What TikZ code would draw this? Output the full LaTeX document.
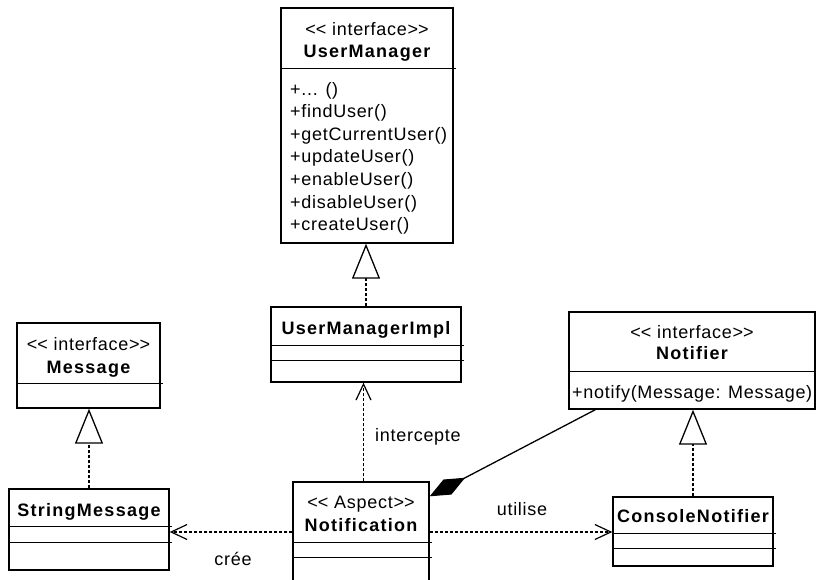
\documentclass[tikz,border=0pt]{standalone}
\usepackage{fontspec}
\setmainfont{Liberation Sans}[LetterSpace=4]
\newfontfamily\titlefont{Liberation Sans}[LetterSpace=7]
\usetikzlibrary{arrows.meta,calc}
% stereotype label, with the two angle brackets kept apart
\newcommand{\stereo}[1]{<\kern0pt<~#1>\kern0pt>}
\begin{document}
\begin{tikzpicture}[x=1pt,y=-1pt,
  cls/.style={draw, line width=1.4pt, rectangle, inner sep=0pt},
  sepline/.style={line width=1.4pt},
  lbl/.style={inner sep=0pt, anchor=base, font=\fontsize{18}{21}\selectfont},
  ttl/.style={lbl, font=\fontsize{18}{21}\selectfont\titlefont\bfseries},
  op/.style={lbl, anchor=base west},
  dep/.style={line width=1.1pt, dash pattern=on 3pt off 2pt,
    -{Straight Barb[length=16pt,width=15pt,line width=1.2pt]}},
  real/.style={line width=1.1pt, dash pattern=on 3pt off 2pt,
    -{Triangle[open,length=35pt,width=28pt,line width=1.3pt,fill=white]}},
  comp/.style={line width=1.3pt, -{Diamond[length=40pt,width=17pt]}},
]
\useasboundingbox (0,0) rectangle (816,580);
\clip (0,0) rectangle (816,580);

% class boxes
\node[cls, minimum width=172pt, minimum height=235pt] (um) at (367,125.5) {};
\node[cls, minimum width=190pt, minimum height=75pt] (umi) at (366,344.5) {};
\node[cls, minimum width=143pt, minimum height=85pt] (msg) at (88.5,365.5) {};
\node[cls, minimum width=160pt, minimum height=81pt] (smsg) at (89,529.5) {};
\node[cls, minimum width=136pt, minimum height=128pt] (notif) at (361,546) {};
\node[cls, minimum width=246pt, minimum height=97pt] (notifier) at (692,360.5) {};
\node[cls, minimum width=160pt, minimum height=69pt] (cn) at (693,531.5) {};

% compartment separators
\draw[sepline] ($(um.north west)+(0,61)$) -- ($(um.north east)+(2.5,61)$);
\draw[sepline] ($(umi.north west)+(0,39)$) -- ($(umi.north east)+(2.5,39)$);
\draw[sepline] ($(umi.north west)+(0,54)$) -- ($(umi.north east)+(2.5,54)$);
\draw[sepline] ($(msg.north west)+(0,61)$) -- ($(msg.north east)+(2.5,61)$);
\draw[sepline] ($(smsg.north west)+(0,38)$) -- ($(smsg.north east)+(2.5,38)$);
\draw[sepline] ($(smsg.north west)+(0,54)$) -- ($(smsg.north east)+(2.5,54)$);
\draw[sepline] ($(notif.north west)+(0,61)$) -- ($(notif.north east)+(2.5,61)$);
\draw[sepline] ($(notif.north west)+(0,76)$) -- ($(notif.north east)+(2.5,76)$);
\draw[sepline] ($(notifier.north west)+(0,60)$) -- ($(notifier.north east)+(2.5,60)$);
\draw[sepline] ($(cn.north west)+(0,37)$) -- ($(cn.north east)+(2.5,37)$);
\draw[sepline] ($(cn.north west)+(0,52)$) -- ($(cn.north east)+(2.5,52)$);

% UserManager
\node[lbl] (um-st) at (367,35.5) {\stereo{interface}};
\node[ttl] (um-nm) at (367,57.5) {UserManager};
\node[op] (um-o1) at (290,95.5) {+... ()};
\node[op] (um-o2) at (290,118) {+findUser()};
\node[op] (um-o3) at (290,140.5) {+getCurrentUser()};
\node[op] (um-o4) at (290,163) {+updateUser()};
\node[op] (um-o5) at (290,185.5) {+enableUser()};
\node[op] (um-o6) at (290,208) {+disableUser()};
\node[op] (um-o7) at (290,230.5) {+createUser()};

% UserManagerImpl
\node[ttl] (umi-nm) at (366,334.5) {UserManagerImpl};

% Message
\node[lbl] (msg-st) at (88.5,350.5) {\stereo{interface}};
\node[ttl] (msg-nm) at (88.5,373.5) {Message};

% StringMessage
\node[ttl] (smsg-nm) at (89,516.5) {StringMessage};

% Notification
\node[lbl] (notif-st) at (361,508.5) {\stereo{Aspect}};
\node[ttl] (notif-nm) at (361,531.5) {Notification};

% Notifier
\node[lbl] (notifier-st) at (692,338.5) {\stereo{interface}};
\node[ttl] (notifier-nm) at (692,359.5) {Notifier};
\node[op] (notifier-o1) at (572,398.5) {+notify(Message: Message)};

% ConsoleNotifier
\node[ttl] (cn-nm) at (693,522.5) {ConsoleNotifier};

% realizations
\draw[real] (smsg.north) -- (smsg.north |- msg.south);
\draw[real] (umi.north) -- (umi.north |- um.south);
\draw[real] (cn.north) -- (cn.north |- notifier.south);

% dependencies
\draw[dep] ([xshift=2.5pt]notif.north) -- ([xshift=2.5pt]notif.north |- umi.south);
\coordinate (lvl) at (0,532);
\draw[dep] (notif.west |- lvl) -- (smsg.east |- lvl);
\draw[dep] (notif.east |- lvl) -- (cn.west |- lvl);

% composition
\draw[comp] ($(notifier.south west)+(27,0)$) -- ($(notif.north east)+(0,15)$);

% connector labels
\node[lbl, anchor=base west] (l-int) at (375,441.5) {intercepte};
\node[lbl] (l-cree) at (233,565.5) {crée};
\node[lbl] (l-util) at (522,515.5) {utilise};
\end{tikzpicture}
\end{document}
